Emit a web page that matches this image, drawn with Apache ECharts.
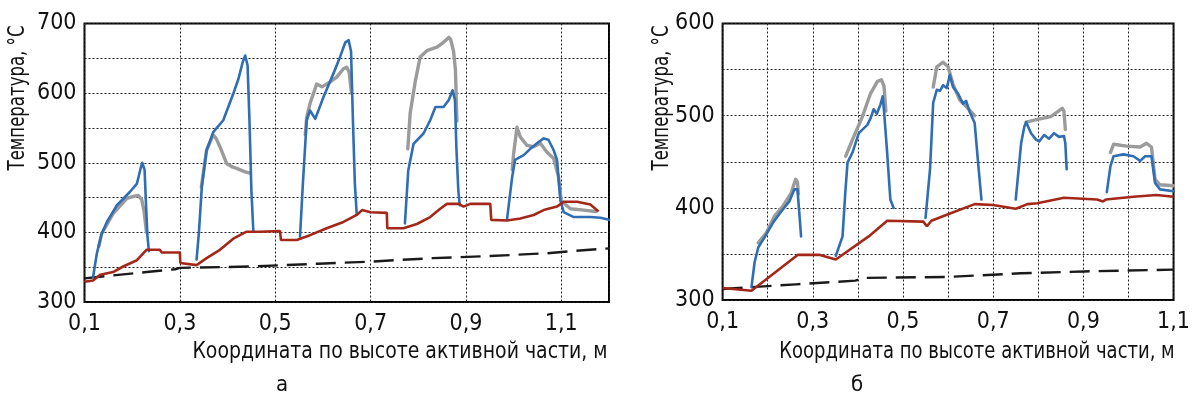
<!DOCTYPE html>
<html><head><meta charset="utf-8">
<script src="https://cdn.jsdelivr.net/npm/echarts@6/dist/echarts.min.js"></script>
<style>html,body{margin:0;padding:0;background:#fff}#c{width:1193px;height:401px}</style>
</head><body><div id="c"></div>
<script>
// ---- Chart а (left) ----
const leftBlue = [
  [[0.118,336],[0.126,370],[0.136,398],[0.147,415],[0.168,439],[0.195,458],[0.21,470],[0.217,490],[0.221,500],[0.226,490],[0.229,440],[0.232,395],[0.235,373]],
  [[0.335,361],[0.34,400],[0.346,465],[0.356,518],[0.37,544],[0.391,561],[0.412,599],[0.423,621],[0.432,645],[0.437,654],[0.442,640],[0.446,560],[0.45,460],[0.454,403]],
  [[0.552,394],[0.558,470],[0.566,561],[0.573,575],[0.584,563],[0.601,594],[0.622,628],[0.636,652],[0.647,673],[0.654,676],[0.659,660],[0.663,560],[0.667,470],[0.671,425]],
  [[0.772,413],[0.779,489],[0.79,527],[0.811,542],[0.825,561],[0.836,580],[0.853,580],[0.864,590],[0.872,604],[0.877,590],[0.88,520],[0.884,460],[0.887,439]],
  [[0.986,418],[0.997,480],[1.003,504],[1.021,511],[1.035,520],[1.049,528],[1.063,535],[1.073,533],[1.084,518],[1.091,504],[1.098,446],[1.105,429],[1.126,422],[1.161,422],[1.182,421],[1.2,418]]
];
const leftGray = [
  [[0.13,380],[0.136,398],[0.16,427],[0.189,449],[0.205,452],[0.213,453],[0.22,447],[0.225,430],[0.23,400]],
  [[0.345,465],[0.356,518],[0.37,540],[0.376,535],[0.384,523],[0.398,499],[0.41,494],[0.419,492],[0.437,487],[0.447,485]],
  [[0.563,540],[0.566,565],[0.573,585],[0.587,613],[0.598,609],[0.615,616],[0.629,623],[0.643,635],[0.65,637],[0.655,630],[0.66,600]],
  [[0.778,520],[0.783,571],[0.794,618],[0.804,652],[0.818,661],[0.839,666],[0.853,673],[0.864,680],[0.868,677],[0.874,660],[0.878,633],[0.881,560]],
  [[0.997,490],[1.0,513],[1.007,551],[1.014,537],[1.028,525],[1.042,523],[1.056,528],[1.07,515],[1.084,506],[1.094,480],[1.1,445],[1.119,434],[1.147,432],[1.172,430]]
];
const leftRed = [[0.1,329],[0.118,331],[0.133,339],[0.16,343],[0.181,351],[0.21,360],[0.23,375],[0.258,375],[0.262,371],[0.3,371],[0.301,356],[0.335,353],[0.356,363],[0.384,375],[0.412,391],[0.44,401],[0.468,401],[0.51,402],[0.512,389],[0.545,389],[0.573,396],[0.608,406],[0.643,415],[0.671,425],[0.682,432],[0.7,429],[0.734,428],[0.735,406],[0.769,406],[0.797,412],[0.825,422],[0.846,434],[0.86,441],[0.885,441],[0.895,437],[0.909,441],[0.951,441],[0.953,418],[0.986,417],[1.014,420],[1.042,425],[1.063,432],[1.091,437],[1.105,444],[1.133,444],[1.161,440],[1.178,430]];
const leftDash = [[0.1,334],[0.23,343],[0.29,347],[0.3,349],[0.45,351],[0.59,355],[0.7,358],[0.83,363],[0.95,366],[1.07,370],[1.12,373],[1.2,377]];

// ---- Chart б (right) ----
const rightBlue = [
  [[0.164,314],[0.171,341],[0.179,357],[0.193,368],[0.212,384],[0.23,396],[0.248,407],[0.259,420],[0.266,420],[0.27,395],[0.274,369]],
  [[0.351,348],[0.366,369],[0.372,416],[0.377,449],[0.388,460],[0.402,481],[0.421,490],[0.428,497],[0.435,507],[0.442,502],[0.45,512],[0.455,521],[0.458,505],[0.465,459],[0.472,409],[0.479,400]],
  [[0.55,389],[0.56,442],[0.567,514],[0.575,528],[0.582,527],[0.589,533],[0.597,530],[0.604,544],[0.611,531],[0.622,524],[0.633,513],[0.64,516],[0.648,504],[0.659,492],[0.666,452],[0.674,409]],
  [[0.75,409],[0.762,470],[0.769,488],[0.773,493],[0.784,481],[0.795,474],[0.802,472],[0.813,479],[0.824,475],[0.835,481],[0.846,477],[0.857,478],[0.86,470],[0.863,442]],
  [[0.952,417],[0.96,445],[0.967,456],[0.989,458],[1.011,456],[1.026,451],[1.037,456],[1.051,456],[1.059,427],[1.07,420],[1.1,418]]
];
const rightGray = [
  [[0.179,362],[0.197,373],[0.215,391],[0.234,402],[0.252,416],[0.262,431],[0.266,428],[0.268,415]],
  [[0.373,456],[0.388,474],[0.41,499],[0.428,524],[0.443,537],[0.452,539],[0.458,532],[0.462,505]],
  [[0.567,531],[0.575,553],[0.589,558],[0.6,553],[0.611,534],[0.626,517],[0.644,508],[0.659,500]],
  [[0.773,493],[0.798,496],[0.828,499],[0.853,508],[0.857,505],[0.86,485]],
  [[0.96,460],[0.967,469],[0.996,467],[1.026,466],[1.04,470],[1.051,466],[1.059,431],[1.07,425],[1.1,424]]
];
const rightRed = [[0.1,313],[0.164,310],[0.267,349],[0.314,349],[0.351,344],[0.424,369],[0.465,386],[0.545,385],[0.553,380],[0.563,386],[0.6,393],[0.659,404],[0.7,403],[0.75,399],[0.776,404],[0.798,405],[0.857,411],[0.93,409],[0.944,407],[0.95,409],[1.011,412],[1.062,414],[1.1,412]];
const rightDash = [[0.1,312],[0.263,317],[0.395,321],[0.41,324],[0.6,325],[0.762,329],[0.901,331],[1.1,333]];

const yTitle = 'Температура, °С';
const xTitle = 'Координата по высоте активной части, м';
const panelLabels = ['а', 'б'];

const FONT = '"DejaVu Sans Condensed","Liberation Sans Narrow","Noto Sans",sans-serif';
const C_BLUE = '#2f6db5', C_GRAY = '#9b9b9b', C_RED = '#a3281a', C_BLACK = '#1a1a1a';

function segSeries(segs, idx, color, width, z) {
  return segs.map(s => ({
    type: 'line', xAxisIndex: idx, yAxisIndex: idx, data: s, showSymbol: false,
    lineStyle: { color, width, join: 'round', cap: 'round' }, z, silent: true, animation: false
  }));
}
function lineSeries(d, idx, color, width, z, type) {
  return { type: 'line', xAxisIndex: idx, yAxisIndex: idx, data: d, showSymbol: false,
    lineStyle: { color, width, type: type || 'solid' }, z, silent: true, animation: false };
}
const splitDotted = { show: true, lineStyle: { color: '#222', width: 1, type: [2, 2] } };
const yLab = { fontFamily: FONT, fontSize: 23, color: '#111', margin: 8,
  formatter: v => (v % 100 === 0 ? String(v) : '') };
const comma = v => v.toFixed(1).replace('.', ',');
const titleFont = size => size + 'px ' + FONT;

const option = {
  animation: false,
  grid: [
    { left: 84.5, top: 23.5, width: 524.5, height: 278.5, show: true, borderColor: '#000', borderWidth: 2, backgroundColor: 'transparent' },
    { left: 722.6, top: 23.5, width: 454.5, height: 276.5, show: true, borderColor: '#000', borderWidth: 2, backgroundColor: 'transparent' }
  ],
  xAxis: [
    { type: 'value', gridIndex: 0, min: 0.1, max: 1.2, interval: 0.2,
      axisLine: { show: false }, axisTick: { show: false }, splitLine: splitDotted,
      axisLabel: { fontFamily: FONT, fontSize: 23, color: '#111', margin: 11, showMaxLabel: false,
        formatter: v => (Math.abs(v - 1.2) < 1e-6 ? '' : comma(v)) } },
    { type: 'value', gridIndex: 1, min: 0.1, max: 1.1, interval: 0.1,
      axisLine: { show: false }, axisTick: { show: false }, splitLine: splitDotted,
      axisLabel: { fontFamily: FONT, fontSize: 23, color: '#111', margin: 11, showMaxLabel: true,
        formatter: v => (Math.round(v * 10) % 2 === 1 ? comma(v) : '') } }
  ],
  yAxis: [
    { type: 'value', gridIndex: 0, min: 300, max: 700, interval: 50,
      axisLine: { show: false }, axisTick: { show: false }, splitLine: splitDotted, axisLabel: yLab },
    { type: 'value', gridIndex: 1, min: 300, max: 600, interval: 50,
      axisLine: { show: false }, axisTick: { show: false }, splitLine: splitDotted, axisLabel: yLab }
  ],
  graphic: [
    { type: 'text', x: 18, y: 98, rotation: Math.PI / 2, scaleX: 0.92, scaleY: 1.12, style: { text: yTitle, font: titleFont(20), fill: '#111', textAlign: 'center', textVerticalAlign: 'middle' } },
    { type: 'text', x: 662, y: 98, rotation: Math.PI / 2, scaleX: 0.92, scaleY: 1.12, style: { text: yTitle, font: titleFont(20), fill: '#111', textAlign: 'center', textVerticalAlign: 'middle' } },
    { type: 'text', x: 400, y: 352, scaleY: 1.12, style: { text: xTitle, font: titleFont(21), fill: '#111', textAlign: 'center', textVerticalAlign: 'middle' } },
    { type: 'text', x: 977, y: 352, scaleY: 1.12, style: { text: xTitle, font: titleFont(20), fill: '#111', textAlign: 'center', textVerticalAlign: 'middle' } },
    { type: 'text', x: 282, y: 385, style: { text: panelLabels[0], font: titleFont(22), fill: '#111', textAlign: 'center', textVerticalAlign: 'middle' } },
    { type: 'text', x: 857, y: 385, style: { text: panelLabels[1], font: titleFont(22), fill: '#111', textAlign: 'center', textVerticalAlign: 'middle' } }
  ],
  series: [
    lineSeries(leftDash, 0, C_BLACK, 2.4, 2, [20, 9]),
    ...segSeries(leftGray, 0, C_GRAY, 3.4, 3),
    ...segSeries(leftBlue, 0, C_BLUE, 2.6, 4),
    lineSeries(leftRed, 0, C_RED, 2.6, 5),
    lineSeries(rightDash, 1, C_BLACK, 2.4, 2, [20, 9]),
    ...segSeries(rightGray, 1, C_GRAY, 3.4, 3),
    ...segSeries(rightBlue, 1, C_BLUE, 2.6, 4),
    lineSeries(rightRed, 1, C_RED, 2.6, 5)
  ]
};
const chart = echarts.init(document.getElementById('c'), null, { renderer: 'canvas' });
chart.setOption(option);
</script></body></html>
